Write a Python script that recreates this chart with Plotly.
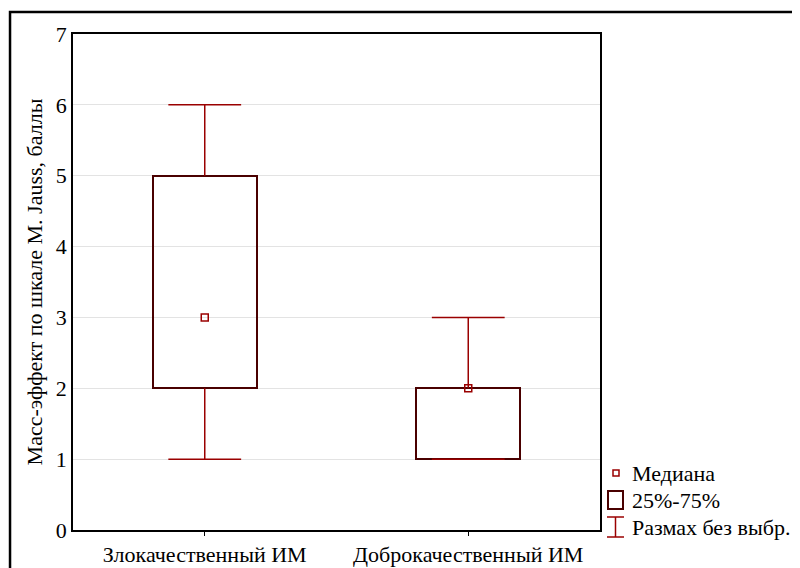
import plotly.graph_objects as go

categories = ["Злокачественный ИМ", "Доброкачественный ИМ"]
q1 = [2, 1]
median = [3, 2]
q3 = [5, 2]
whisker_min = [1, 1]
whisker_max = [6, 3]
y_ticks = [0, 1, 2, 3, 4, 5, 6, 7]
legend_labels = ["Медиана", "25%-75%", "Размах без выбр."]
y_title = "Масс-эффект по шкале M. Jauss, баллы"

BOX_C = "#4a0000"
WH_C = "#9a0000"
FONT = "Liberation Serif, Times New Roman, serif"
FS = 22

fig = go.Figure()

# whisker vertical lines
wx, wy = [], []
for c, a, b, lo, hi in zip(categories, q1, q3, whisker_min, whisker_max):
    wx += [c, c, None, c, c, None]
    wy += [b, hi, None, a, lo, None]
fig.add_trace(go.Scatter(x=wx, y=wy, mode="lines", line=dict(color=WH_C, width=1.5),
                         showlegend=False, hoverinfo="skip"))

# whisker caps
fig.add_trace(go.Scatter(x=categories + categories, y=whisker_max + whisker_min, mode="markers",
                         marker=dict(symbol="line-ew", size=52, line=dict(color=WH_C, width=1.5)),
                         showlegend=False, hoverinfo="skip"))

# boxes (25%-75%)
fig.add_trace(go.Bar(x=categories, y=[b - a for a, b in zip(q1, q3)], base=q1, width=0.395,
                     marker=dict(color="rgba(255,255,255,0)", line=dict(color=BOX_C, width=2)),
                     showlegend=False))

# medians
fig.add_trace(go.Scatter(x=categories, y=median, mode="markers",
                         marker=dict(symbol="square-open", size=7, color=WH_C, line=dict(width=1.5)),
                         showlegend=False))

# page has an 8px body margin, so the figure is 8px smaller than the window
fig.update_layout(
    width=792, height=560,
    margin=dict(l=65, r=200, t=26, b=38, autoexpand=False),
    plot_bgcolor="white", paper_bgcolor="white",
    font=dict(family=FONT, size=FS, color="black"),
    bargap=0,
)
fig.update_xaxes(range=[-0.5, 1.5], showline=True, linecolor="black", linewidth=1.5, mirror=True,
                 ticks="outside", ticklen=4, tickcolor="black", showgrid=False, automargin=False,
                 tickfont=dict(family=FONT, size=FS))
fig.update_yaxes(range=[0, 7], tickvals=y_ticks, showline=True, linecolor="black", linewidth=1.5,
                 mirror=True, ticks="", showgrid=True, gridcolor="#e3e3e3", gridwidth=1,
                 zeroline=False, automargin=False, tickfont=dict(family=FONT, size=FS),
                 title=dict(text=y_title, font=dict(family=FONT, size=FS), standoff=7))

# outer frame
fig.add_shape(type="rect", xref="paper", yref="paper", x0=-0.1195, x1=1.40, y0=-0.09, y1=1.0444,
              line=dict(color="black", width=2.5))

# manual legend
def px(x):
    return (x - 73) / 527
def py(y):
    return (530 - y) / 496

fig.add_shape(type="rect", xref="paper", yref="paper", x0=px(613), x1=px(619), y0=py(476), y1=py(470),
              line=dict(color=WH_C, width=1.5))
fig.add_shape(type="rect", xref="paper", yref="paper", x0=px(608), x1=px(623), y0=py(509), y1=py(491),
              line=dict(color=BOX_C, width=2))
fig.add_shape(type="line", xref="paper", yref="paper", x0=px(607), x1=px(624), y0=py(517), y1=py(517),
              line=dict(color=WH_C, width=1.5))
fig.add_shape(type="line", xref="paper", yref="paper", x0=px(607), x1=px(624), y0=py(537), y1=py(537),
              line=dict(color=WH_C, width=1.5))
fig.add_shape(type="line", xref="paper", yref="paper", x0=px(615.5), x1=px(615.5), y0=py(517), y1=py(537),
              line=dict(color=WH_C, width=1.5))
for lbl, yy in zip(legend_labels, [473, 500, 527]):
    fig.add_annotation(text=lbl, xref="paper", yref="paper", x=px(630), y=py(yy), xanchor="left",
                       yanchor="middle", showarrow=False, font=dict(family=FONT, size=FS))

fig.write_html("out.html")
